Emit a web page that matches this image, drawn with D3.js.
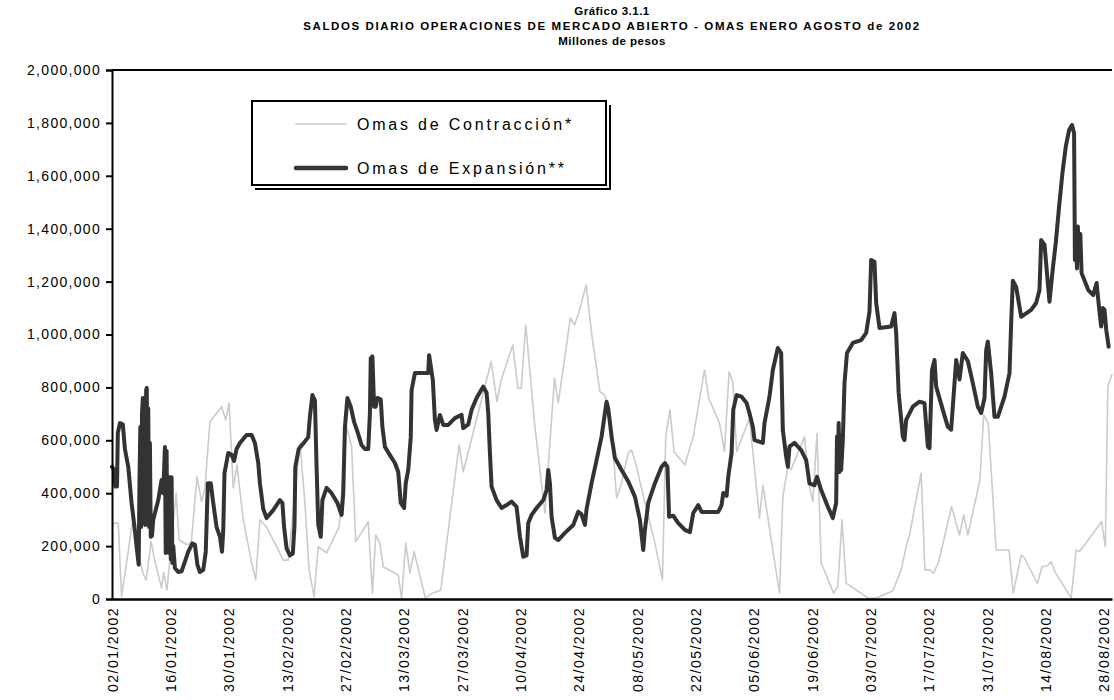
<!DOCTYPE html>
<html><head><meta charset="utf-8">
<script src="https://cdn.jsdelivr.net/npm/d3@7"></script>
<style>body{margin:0;background:#fff}svg{display:block}</style>
</head><body>
<svg id="c" width="1114" height="700"></svg>
<script>
// ---------- data (values in thousands of millions of pesos; x = days since 02/01/2002) ----------
const titleLines = ["Gráfico 3.1.1",
  "SALDOS DIARIO OPERACIONES DE MERCADO ABIERTO - OMAS ENERO AGOSTO de 2002",
  "Millones de pesos"];
const seriesNames = ["Omas de Contracción*", "Omas de Expansión**"];
const xTickDays = [0,14,28,42,56,70,84,98,112,126,140,154,168,182,196,210,224,238];
const xTickLabels = ["02/01/2002","16/01/2002","30/01/2002","13/02/2002","27/02/2002","13/03/2002",
  "27/03/2002","10/04/2002","24/04/2002","08/05/2002","22/05/2002","05/06/2002","19/06/2002",
  "03/07/2002","17/07/2002","31/07/2002","14/08/2002","28/08/2002"];
const yTickValues = [0,200,400,600,800,1000,1200,1400,1600,1800,2000];
const yTickLabels = ["0","200,000","400,000","600,000","800,000","1,000,000","1,200,000",
  "1,400,000","1,600,000","1,800,000","2,000,000"];

const contraccion = [[0,287],[1.5,287],[2.3,9],[5.0,299],[6.0,200],[7.4,98],[8.2,72],[9.4,217],[10.2,150],
  [11.9,42],[12.4,100],[13.2,34],[15.4,400],[16.1,223],[17.9,206],[19.0,210],[20.4,462],[21.5,368],[22.3,420],
  [23.5,670],[26.3,727],[27.3,677],[28.1,741],[29.1,420],[30.0,506],[31.4,311],[33.5,136],[34.5,72],[35.5,299],
  [37.1,272],[39.5,198],[41.1,147],[42.3,147],[45.1,590],[46.3,363],[47.3,110],[48.5,9],[49.5,198],[51.5,174],
  [54.5,273],[56.3,651],[57.5,576],[58.5,217],[61.5,292],[62.5,22],[63.3,242],[64.3,210],[65.1,122],[68.7,91],
  [69.5,0],[70.5,212],[71.5,98],[72.5,179],[75.2,4],[77.0,22],[78.9,34],[83.3,582],[84.3,481],[91.0,897],
  [92.4,746],[93.4,828],[96.2,960],[97.4,797],[98.2,797],[99.3,1036],[101.5,651],[103.9,325],[106.2,835],
  [107.1,741],[110.0,1062],[111.0,1036],[112.0,1081],[113.8,1187],[115.2,992],[117.1,784],[118.3,770],
  [119.9,651],[121.1,382],[122.3,438],[123.9,552],[124.7,563],[125.9,500],[127.9,363],[130.3,212],[132.1,72],
  [132.9,614],[133.9,715],[134.9,557],[137.5,507],[139.5,614],[142.2,866],[143.2,760],[145.8,665],[147.0,557],
  [148.1,859],[149.0,820],[149.9,557],[153.0,683],[155.4,306],[156.2,431],[160.2,22],[161.0,387],[162.2,500],
  [163.0,490],[166.2,614],[167.4,425],[168.2,368],[169.2,626],[170.2,136],[173.2,22],[174.2,48],[175.2,299],
  [176.2,60],[181.4,4],[183.4,4],[187.4,30],[189.4,110],[190.6,198],[191.4,242],[194.2,476],[195.1,110],
  [196.2,110],[197.2,98],[198.4,141],[201.5,349],[203.4,242],[204.4,318],[205.4,242],[208.3,450],[209.2,696],
  [210.3,665],[212.2,185],[215.3,185],[216.3,22],[218.2,166],[219.0,155],[222.1,59],[223.2,122],[224.4,125],
  [225.4,141],[226.4,100],[230.2,4],[231.4,185],[232.2,180],[233.4,204],[237.5,292],[238.4,198],[239.0,803],
  [240.0,850]];

const expansion = [[0,500],[0.6,488],[0.8,425],[1.2,425],[1.4,628],[1.9,665],[2.6,660],[3.1,567],[3.9,500],
  [4.7,363],[5.4,272],[5.9,198],[6.4,130],[6.6,450],[6.8,650],[7.0,272],[7.2,700],[7.4,760],[7.6,290],[7.8,760],
  [8.0,280],[8.2,790],[8.35,798],[8.5,290],[8.7,720],[8.9,272],[9.1,590],[9.3,235],[9.6,240],[9.9,300],
  [11.1,374],[11.9,450],[12.3,400],[12.7,575],[12.9,174],[13.1,560],[13.3,220],[13.5,460],[13.7,174],[13.9,460],
  [14.1,150],[14.3,460],[14.5,136],[14.7,200],[15.1,117],[15.9,102],[16.7,105],[17.5,141],[18.3,179],[19.3,210],
  [19.9,205],[20.5,129],[21.1,102],[21.9,110],[22.5,179],[22.8,336],[23.0,438],[23.7,438],[24.3,363],[25.1,272],
  [25.9,236],[26.4,179],[26.7,260],[27.0,476],[27.9,552],[28.7,545],[29.3,522],[29.9,567],[30.7,590],[32.3,620],
  [33.5,620],[34.3,590],[35.1,514],[35.5,438],[36.3,340],[37.1,306],[38.7,336],[40.3,374],[40.9,363],[41.3,272],
  [41.9,191],[42.7,165],[43.4,172],[43.8,280],[44.0,500],[44.8,567],[46.0,590],[47.1,612],[47.5,690],[48.1,771],
  [48.7,750],[49.1,500],[49.5,280],[50.1,235],[50.5,374],[51.5,420],[52.7,400],[54.1,363],[55.1,318],[55.5,400],
  [55.9,650],[56.5,760],[57.3,727],[58.1,670],[58.9,633],[59.9,582],[60.7,567],[61.5,567],[61.9,703],[62.1,910],
  [62.5,917],[62.9,727],[63.3,727],[63.7,760],[64.5,755],[64.9,650],[65.5,575],[66.7,544],[67.9,514],[68.7,480],
  [69.3,363],[70.1,344],[70.5,438],[71.1,488],[71.7,612],[71.9,790],[72.7,854],[75.9,854],[76.1,922],[77.0,828],
  [77.5,677],[77.9,639],[78.7,696],[79.5,658],[80.7,658],[82.3,684],[83.9,696],[84.3,646],[85.5,660],[86.3,715],
  [87.5,760],[89.1,803],[89.9,780],[90.3,703],[90.7,552],[91.1,425],[92.3,374],[93.5,344],[94.7,355],[95.9,368],
  [97.1,348],[97.9,236],[98.7,160],[99.5,165],[99.9,287],[100.7,318],[101.9,344],[103.5,374],[104.3,412],
  [104.7,488],[105.1,438],[105.5,311],[106.3,231],[107.1,223],[108.7,250],[110.7,280],[111.9,330],[112.7,320],
  [113.5,280],[113.9,340],[115.1,438],[116.3,525],[117.5,614],[118.3,703],[118.7,746],[119.1,720],[119.9,614],
  [120.7,533],[122.3,488],[123.9,444],[125.5,387],[126.7,299],[127.5,185],[127.9,261],[128.7,363],[130.3,438],
  [131.9,500],[132.7,514],[133.3,500],[133.7,311],[134.7,315],[135.9,287],[137.5,261],[138.7,253],[139.5,325],
  [140.7,355],[141.5,329],[145.5,329],[146.3,355],[146.7,401],[147.5,390],[147.9,462],[148.7,552],[149.1,715],
  [149.9,771],[151.1,765],[152.3,741],[153.0,702],[153.8,651],[154.2,601],[156.2,590],[156.6,665],[157.8,765],
  [158.6,866],[159.8,949],[160.6,930],[161.0,639],[161.8,538],[162.2,500],[162.6,576],[163.8,590],[165.4,563],
  [166.6,525],[167.4,437],[168.6,430],[169.2,462],[170.2,412],[171.8,349],[173.0,306],[173.8,363],[174.0,614],
  [174.2,500],[174.4,665],[174.6,480],[174.8,620],[175.0,488],[175.4,601],[175.8,816],[176.4,930],[177.8,968],
  [179.8,979],[181.0,1006],[181.8,1086],[182.2,1282],[183.0,1275],[183.4,1119],[184.2,1025],[187.0,1030],
  [187.8,1081],[188.2,1006],[188.8,779],[189.8,614],[190.2,601],[190.6,677],[192.2,727],[193.8,746],[195.0,740],
  [195.8,576],[196.2,570],[196.8,866],[197.4,904],[197.8,803],[199.4,715],[200.6,651],[201.4,640],[202.2,816],
  [202.6,904],[203.4,830],[204.2,930],[205.4,900],[206.6,816],[207.8,727],[208.6,703],[209.4,760],[209.8,940],
  [210.2,973],[211.0,854],[211.8,689],[212.6,689],[214.2,765],[215.4,854],[215.8,1043],[216.2,1203],[217.0,1180],
  [218.2,1067],[220.6,1093],[221.8,1119],[222.6,1168],[223.0,1357],[223.8,1340],[224.4,1231],[225.0,1124],
  [225.8,1250],[226.5,1346],[227.3,1483],[228.1,1610],[228.9,1710],[229.7,1773],[230.4,1792],[230.9,1760],
  [231.1,1282],[231.4,1350],[231.6,1250],[231.8,1408],[232.1,1300],[232.4,1380],[232.7,1232],[234.3,1168],
  [235.5,1149],[236.3,1195],[236.9,1100],[237.4,1030],[237.8,1100],[238.2,1093],[238.6,1020],[239.2,954]];

// ---------- drawing ----------
const svg = d3.select("#c");
const FONT = "'Liberation Sans', Arial, sans-serif";
const mLeft = 112, mRight = 1112, mTop = 70, mBottom = 599;
const x = d3.scaleLinear().domain([0, 240]).range([mLeft, mRight]);
const y = d3.scaleLinear().domain([0, 2000]).range([mBottom, mTop]);

// title
const titleSpacing = ["0.5px", "1.6px", "0.5px"];
svg.append("g").selectAll("text").data(titleLines).join("text")
  .attr("x", 612).attr("y", (d, i) => 15 + i * 15)
  .attr("text-anchor", "middle").attr("font-family", FONT)
  .attr("font-weight", "bold").attr("font-size", 11.5).attr("fill", "#000")
  .style("letter-spacing", (d, i) => titleSpacing[i])
  .text(d => d);

// series
const line = d3.line().x(d => x(d[0])).y(d => y(d[1]));
svg.append("path").datum(contraccion).attr("d", line)
  .attr("fill", "none").attr("stroke", "#cbcbcb").attr("stroke-width", 1.6)
  .attr("stroke-linejoin", "round");
svg.append("path").datum(expansion).attr("d", line)
  .attr("fill", "none").attr("stroke", "#333333").attr("stroke-width", 4)
  .attr("stroke-linejoin", "round").attr("stroke-linecap", "round");

// top border
svg.append("line").attr("x1", mLeft).attr("x2", mRight).attr("y1", mTop).attr("y2", mTop)
  .attr("stroke", "#000").attr("stroke-width", 2);

// y axis
const yAxis = d3.axisLeft(y).tickValues(yTickValues)
  .tickFormat((d, i) => yTickLabels[i]).tickSize(6).tickPadding(5);
const gy = svg.append("g").attr("transform", `translate(${mLeft},0)`).call(yAxis);
gy.select(".domain").attr("stroke", "#000").attr("stroke-width", 2);
gy.selectAll(".tick line").attr("stroke", "#000").attr("stroke-width", 2);
gy.selectAll(".tick text").attr("font-family", FONT).attr("font-size", 14)
  .attr("fill", "#000").style("letter-spacing", "1.3px");

// x axis
const xAxis = d3.axisBottom(x).tickValues(xTickDays)
  .tickFormat((d, i) => xTickLabels[i]).tickSize(0).tickSizeOuter(0);
const gx = svg.append("g").attr("transform", `translate(0,${mBottom})`).call(xAxis);
gx.select(".domain").attr("stroke", "#000").attr("stroke-width", 2.5);
gx.selectAll(".tick text").attr("font-family", FONT).attr("font-size", 14).attr("fill", "#000")
  .style("letter-spacing", "1.5px")
  .attr("transform", "rotate(-90)").attr("text-anchor", "end")
  .attr("x", -8).attr("y", 0).attr("dy", "0.36em");

// legend
const lg = svg.append("g");
lg.append("path").attr("d", "M255,189 H610 V105")
  .attr("fill", "none").attr("stroke", "#000").attr("stroke-width", 2);
lg.append("rect").attr("x", 252).attr("y", 101).attr("width", 354).attr("height", 84)
  .attr("fill", "#fff").attr("stroke", "#000").attr("stroke-width", 2);
const legendItems = [
  {name: seriesNames[0], color: "#cbcbcb", w: 1.6, yy: 124},
  {name: seriesNames[1], color: "#333333", w: 4.5, yy: 168}];
legendItems.forEach(it => {
  lg.append("line").attr("x1", 296).attr("x2", 346).attr("y1", it.yy).attr("y2", it.yy)
    .attr("stroke", it.color).attr("stroke-width", it.w).attr("stroke-linecap", "round");
  lg.append("text").attr("x", 357).attr("y", it.yy).attr("dy", "0.36em")
    .attr("font-family", FONT).attr("font-size", 16).attr("fill", "#000")
    .style("letter-spacing", "2.8px").text(it.name);
});
</script>
</body></html>
